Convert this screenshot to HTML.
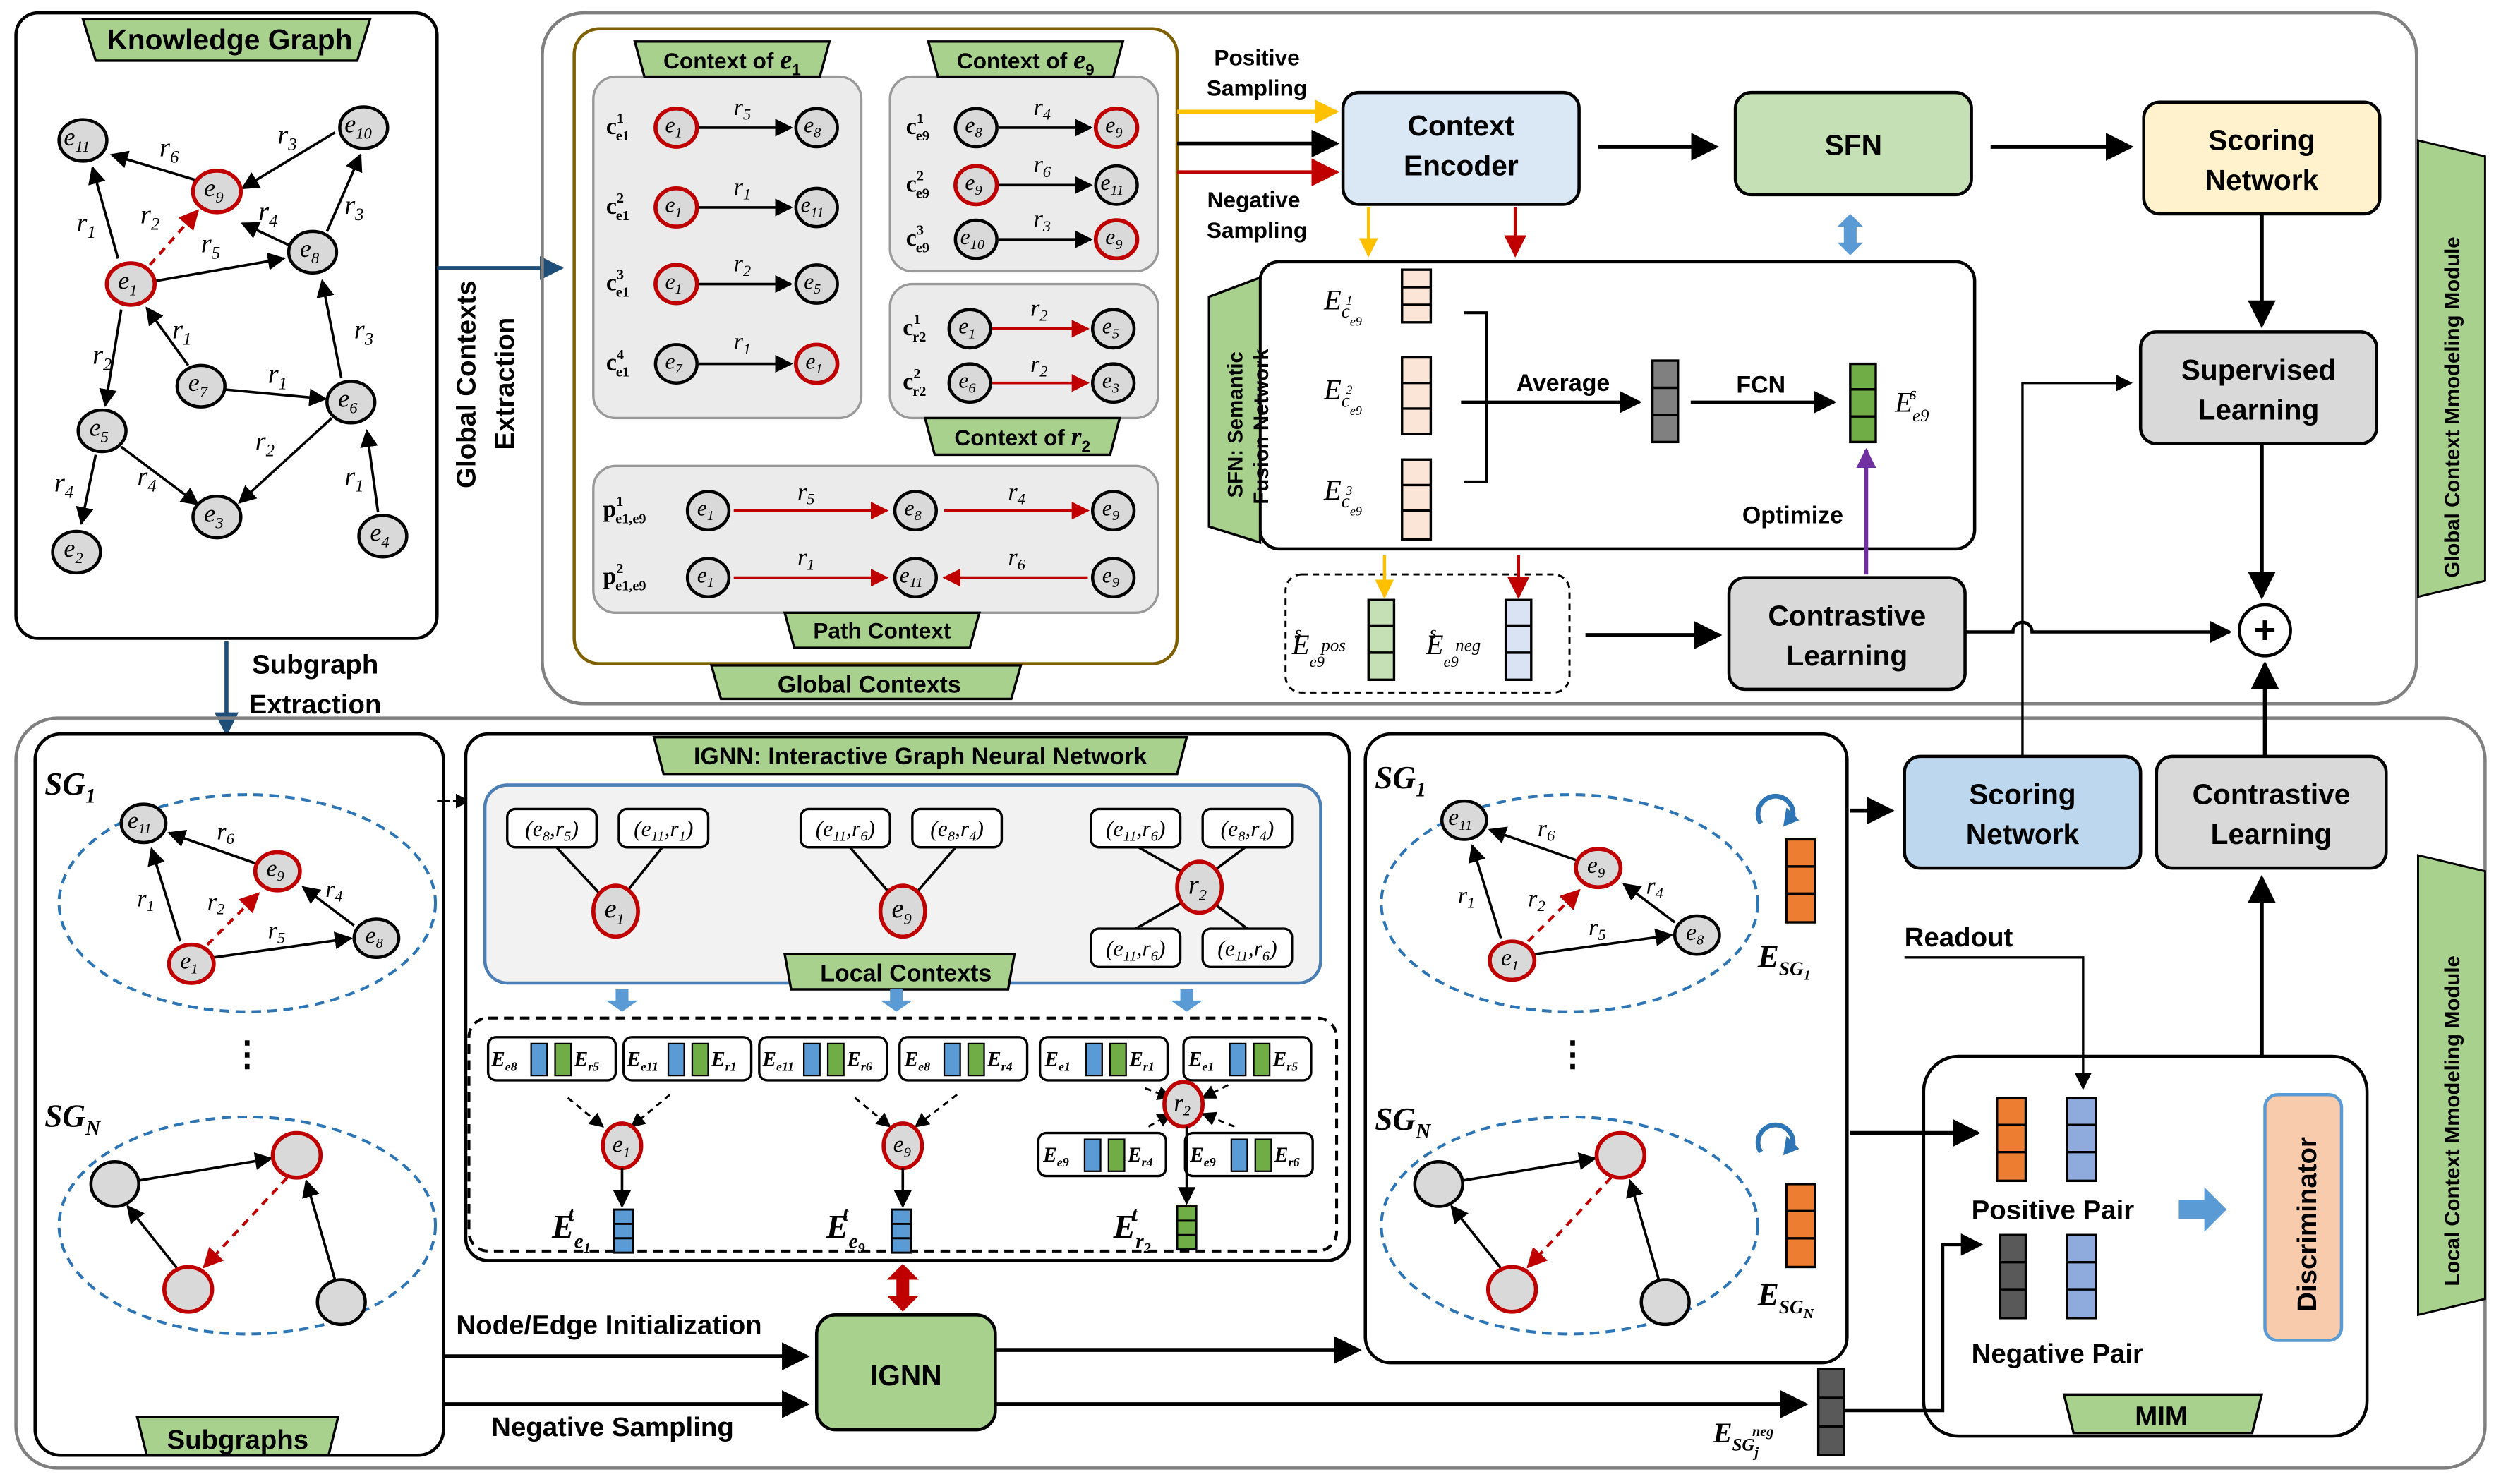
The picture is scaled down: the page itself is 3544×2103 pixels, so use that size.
<!DOCTYPE html>
<html><head><meta charset="utf-8"><style>
html,body{margin:0;padding:0;background:#fff}
svg{display:block}
.b{font-family:"Liberation Sans",sans-serif;font-weight:bold}
.m{font-family:"Liberation Serif",serif;font-style:italic}
.n{fill:#d9d9d9;stroke:#000;stroke-width:2}
.nr{fill:#d9d9d9;stroke:#c00000;stroke-width:2.5}
.l{stroke:#000;stroke-width:1.6;fill:none}
</style></head><body>
<svg width="3544" height="2103" viewBox="0 0 1568 930" preserveAspectRatio="none" xmlns="http://www.w3.org/2000/svg">
<defs>
<marker id="a" viewBox="0 0 10 10" refX="9" refY="5" markerWidth="7" markerHeight="7" orient="auto-start-reverse"><path d="M0,0L10,5L0,10z" fill="#000"/></marker>
<marker id="ar" viewBox="0 0 10 10" refX="9" refY="5" markerWidth="7" markerHeight="7" orient="auto"><path d="M0,0L10,5L0,10z" fill="#c00000"/></marker>
<marker id="ay" viewBox="0 0 10 10" refX="9" refY="5" markerWidth="6" markerHeight="6" orient="auto"><path d="M0,0L10,5L0,10z" fill="#ffc000"/></marker>
<marker id="ab" viewBox="0 0 10 10" refX="9" refY="5" markerWidth="6" markerHeight="6" orient="auto"><path d="M0,0L10,5L0,10z" fill="#1f4e79"/></marker>
<marker id="ap" viewBox="0 0 10 10" refX="9" refY="5" markerWidth="5" markerHeight="5" orient="auto"><path d="M0,0L10,5L0,10z" fill="#7030a0"/></marker>
</defs>

<!-- ===== Knowledge graph panel ===== -->
<rect x="10" y="8" width="264" height="392" rx="14" fill="#fff" stroke="#000" stroke-width="2"/>
<path d="M52,12H232L224,38H60Z" fill="#a9d18e" stroke="#000" stroke-width="1.5"/>
<text x="144" y="31" class="b" font-size="18" text-anchor="middle">Knowledge Graph</text>
<g class="l">
<line x1="130" y1="115" x2="70" y2="97" marker-end="url(#a)"/>
<line x1="74" y1="162" x2="58" y2="105" marker-end="url(#a)"/>
<line x1="210" y1="83" x2="152" y2="118" marker-end="url(#a)"/>
<line x1="182" y1="154" x2="152" y2="140" marker-end="url(#a)"/>
<line x1="205" y1="145" x2="226" y2="97" marker-end="url(#a)"/>
<line x1="98" y1="176" x2="178" y2="162" marker-end="url(#a)"/>
<line x1="76" y1="194" x2="66" y2="254" marker-end="url(#a)"/>
<line x1="118" y1="229" x2="92" y2="193" marker-end="url(#a)"/>
<line x1="140" y1="244" x2="204" y2="250" marker-end="url(#a)"/>
<line x1="214" y1="237" x2="202" y2="176" marker-end="url(#a)"/>
<line x1="208" y1="262" x2="150" y2="315" marker-end="url(#a)"/>
<line x1="76" y1="280" x2="124" y2="316" marker-end="url(#a)"/>
<line x1="60" y1="285" x2="51" y2="328" marker-end="url(#a)"/>
<line x1="237" y1="321" x2="230" y2="270" marker-end="url(#a)"/>
</g>
<line x1="94" y1="166" x2="124" y2="132" stroke="#c00000" stroke-width="1.8" stroke-dasharray="5,4" marker-end="url(#ar)"/>
<g class="m" font-size="17">
<text x="100" y="98">r<tspan font-size="11" dy="4">6</tspan></text>
<text x="174" y="90">r<tspan font-size="11" dy="4">3</tspan></text>
<text x="48" y="145">r<tspan font-size="11" dy="4">1</tspan></text>
<text x="88" y="140">r<tspan font-size="11" dy="4">2</tspan></text>
<text x="162" y="138">r<tspan font-size="11" dy="4">4</tspan></text>
<text x="216" y="134">r<tspan font-size="11" dy="4">3</tspan></text>
<text x="126" y="158">r<tspan font-size="11" dy="4">5</tspan></text>
<text x="108" y="212">r<tspan font-size="11" dy="4">1</tspan></text>
<text x="58" y="228">r<tspan font-size="11" dy="4">2</tspan></text>
<text x="168" y="240">r<tspan font-size="11" dy="4">1</tspan></text>
<text x="222" y="212">r<tspan font-size="11" dy="4">3</tspan></text>
<text x="160" y="282">r<tspan font-size="11" dy="4">2</tspan></text>
<text x="34" y="308">r<tspan font-size="11" dy="4">4</tspan></text>
<text x="86" y="304">r<tspan font-size="11" dy="4">4</tspan></text>
<text x="216" y="304">r<tspan font-size="11" dy="4">1</tspan></text>
</g>
<g>
<ellipse cx="52" cy="88" rx="15" ry="13" class="n"/><ellipse cx="136" cy="120" rx="15" ry="13" class="nr"/><ellipse cx="228" cy="80" rx="15" ry="13" class="n"/><ellipse cx="196" cy="158" rx="15" ry="13" class="n"/><ellipse cx="82" cy="178" rx="15" ry="13" class="nr"/><ellipse cx="126" cy="242" rx="15" ry="13" class="n"/><ellipse cx="220" cy="252" rx="15" ry="13" class="n"/><ellipse cx="64" cy="270" rx="15" ry="13" class="n"/><ellipse cx="136" cy="324" rx="15" ry="13" class="n"/><ellipse cx="48" cy="346" rx="15" ry="13" class="n"/><ellipse cx="240" cy="336" rx="15" ry="13" class="n"/>
</g>
<g class="m" font-size="16">
<text x="40" y="91">e<tspan font-size="10" dy="4">11</tspan></text>
<text x="128" y="123">e<tspan font-size="10" dy="4">9</tspan></text>
<text x="216" y="83">e<tspan font-size="10" dy="4">10</tspan></text>
<text x="188" y="161">e<tspan font-size="10" dy="4">8</tspan></text>
<text x="74" y="181">e<tspan font-size="10" dy="4">1</tspan></text>
<text x="118" y="245">e<tspan font-size="10" dy="4">7</tspan></text>
<text x="212" y="255">e<tspan font-size="10" dy="4">6</tspan></text>
<text x="56" y="273">e<tspan font-size="10" dy="4">5</tspan></text>
<text x="128" y="327">e<tspan font-size="10" dy="4">3</tspan></text>
<text x="40" y="349">e<tspan font-size="10" dy="4">2</tspan></text>
<text x="232" y="339">e<tspan font-size="10" dy="4">4</tspan></text>
</g>

<!-- extraction arrows -->
<line x1="274" y1="168" x2="352" y2="168" stroke="#1f4e79" stroke-width="2.5" marker-end="url(#ab)"/>
<text transform="translate(298,306) rotate(-90)" class="b" font-size="17">Global Contexts</text>
<text transform="translate(322,282) rotate(-90)" class="b" font-size="17">Extraction</text>
<line x1="142" y1="402" x2="142" y2="460" stroke="#1f4e79" stroke-width="2.5" marker-end="url(#ab)"/>
<text x="158" y="422" class="b" font-size="17">Subgraph</text>
<text x="156" y="447" class="b" font-size="17">Extraction</text>

<!-- ===== Global panel ===== -->
<rect x="340" y="8" width="1175" height="433" rx="26" fill="none" stroke="#808080" stroke-width="2"/>
<rect x="360" y="18" width="378" height="398" rx="16" fill="#fff" stroke="#7f6000" stroke-width="2"/>
<path d="M446,417H640L634,438H452Z" fill="#a9d18e" stroke="#000" stroke-width="1.5"/>
<text x="545" y="434" class="b" font-size="15" text-anchor="middle">Global Contexts</text>

<rect x="372" y="48" width="168" height="214" rx="14" fill="#ebebeb" stroke="#999" stroke-width="1.5"/>
<path d="M398,26H520L514,48H404Z" fill="#a9d18e" stroke="#000" stroke-width="1.5"/>
<text x="459" y="43" class="b" font-size="14" text-anchor="middle" font-weight="normal">Context of <tspan class="m" font-size="17">e</tspan><tspan font-size="10" dy="4">1</tspan></text>
<rect x="558" y="48" width="168" height="122" rx="14" fill="#ebebeb" stroke="#999" stroke-width="1.5"/>
<path d="M582,26H704L698,48H588Z" fill="#a9d18e" stroke="#000" stroke-width="1.5"/>
<text x="643" y="43" class="b" font-size="14" text-anchor="middle" font-weight="normal">Context of <tspan class="m" font-size="17">e</tspan><tspan font-size="10" dy="4">9</tspan></text>
<rect x="558" y="178" width="168" height="84" rx="14" fill="#ebebeb" stroke="#999" stroke-width="1.5"/>
<path d="M580,262H702L696,285H586Z" fill="#a9d18e" stroke="#000" stroke-width="1.5"/>
<text x="641" y="279" class="b" font-size="14" text-anchor="middle" font-weight="normal">Context of <tspan class="m" font-size="17">r</tspan><tspan font-size="10" dy="4">2</tspan></text>
<rect x="372" y="292" width="354" height="92" rx="14" fill="#ebebeb" stroke="#999" stroke-width="1.5"/>
<path d="M492,384H614L608,406H498Z" fill="#a9d18e" stroke="#000" stroke-width="1.5"/>
<text x="553" y="400" class="b" font-size="14" text-anchor="middle" font-weight="normal">Path Context</text>

<g class="l">
<line x1="438" y1="80" x2="496" y2="80" marker-end="url(#a)"/>
<line x1="438" y1="130" x2="496" y2="130" marker-end="url(#a)"/>
<line x1="438" y1="178" x2="496" y2="178" marker-end="url(#a)"/>
<line x1="438" y1="228" x2="496" y2="228" marker-end="url(#a)"/>
<line x1="626" y1="80" x2="684" y2="80" marker-end="url(#a)"/>
<line x1="626" y1="116" x2="684" y2="116" marker-end="url(#a)"/>
<line x1="626" y1="150" x2="684" y2="150" marker-end="url(#a)"/>
</g>
<g stroke="#c00000" stroke-width="1.6">
<line x1="622" y1="206" x2="682" y2="206" marker-end="url(#ar)"/>
<line x1="622" y1="240" x2="682" y2="240" marker-end="url(#ar)"/>
<line x1="460" y1="320" x2="556" y2="320" marker-end="url(#ar)"/>
<line x1="592" y1="320" x2="682" y2="320" marker-end="url(#ar)"/>
<line x1="460" y1="362" x2="556" y2="362" marker-end="url(#ar)"/>
<line x1="682" y1="362" x2="592" y2="362" marker-end="url(#ar)"/>
</g>
<g>
<ellipse cx="424" cy="80" rx="13" ry="12" class="nr"/><ellipse cx="512" cy="80" rx="13" ry="12" class="n"/>
<ellipse cx="424" cy="130" rx="13" ry="12" class="nr"/><ellipse cx="512" cy="130" rx="13" ry="12" class="n"/>
<ellipse cx="424" cy="178" rx="13" ry="12" class="nr"/><ellipse cx="512" cy="178" rx="13" ry="12" class="n"/>
<ellipse cx="424" cy="228" rx="13" ry="12" class="n"/><ellipse cx="512" cy="228" rx="13" ry="12" class="nr"/>
<ellipse cx="612" cy="80" rx="13" ry="12" class="n"/><ellipse cx="700" cy="80" rx="13" ry="12" class="nr"/>
<ellipse cx="612" cy="116" rx="13" ry="12" class="nr"/><ellipse cx="700" cy="116" rx="13" ry="12" class="n"/>
<ellipse cx="612" cy="150" rx="13" ry="12" class="n"/><ellipse cx="700" cy="150" rx="13" ry="12" class="nr"/>
<ellipse cx="608" cy="206" rx="13" ry="12" class="n"/><ellipse cx="698" cy="206" rx="13" ry="12" class="n"/>
<ellipse cx="608" cy="240" rx="13" ry="12" class="n"/><ellipse cx="698" cy="240" rx="13" ry="12" class="n"/>
<ellipse cx="444" cy="320" rx="13" ry="12" class="n"/><ellipse cx="574" cy="320" rx="13" ry="12" class="n"/><ellipse cx="698" cy="320" rx="13" ry="12" class="n"/>
<ellipse cx="444" cy="362" rx="13" ry="12" class="n"/><ellipse cx="574" cy="362" rx="13" ry="12" class="n"/><ellipse cx="698" cy="362" rx="13" ry="12" class="n"/>
</g>
<g class="m" font-size="14">
<text x="417" y="83">e<tspan font-size="9" dy="3">1</tspan></text><text x="504" y="83">e<tspan font-size="9" dy="3">8</tspan></text>
<text x="417" y="133">e<tspan font-size="9" dy="3">1</tspan></text><text x="502" y="133">e<tspan font-size="9" dy="3">11</tspan></text>
<text x="417" y="181">e<tspan font-size="9" dy="3">1</tspan></text><text x="504" y="181">e<tspan font-size="9" dy="3">5</tspan></text>
<text x="417" y="231">e<tspan font-size="9" dy="3">7</tspan></text><text x="505" y="231">e<tspan font-size="9" dy="3">1</tspan></text>
<text x="605" y="83">e<tspan font-size="9" dy="3">8</tspan></text><text x="693" y="83">e<tspan font-size="9" dy="3">9</tspan></text>
<text x="605" y="119">e<tspan font-size="9" dy="3">9</tspan></text><text x="690" y="119">e<tspan font-size="9" dy="3">11</tspan></text>
<text x="602" y="153">e<tspan font-size="9" dy="3">10</tspan></text><text x="693" y="153">e<tspan font-size="9" dy="3">9</tspan></text>
<text x="601" y="209">e<tspan font-size="9" dy="3">1</tspan></text><text x="691" y="209">e<tspan font-size="9" dy="3">5</tspan></text>
<text x="601" y="243">e<tspan font-size="9" dy="3">6</tspan></text><text x="691" y="243">e<tspan font-size="9" dy="3">3</tspan></text>
<text x="437" y="323">e<tspan font-size="9" dy="3">1</tspan></text><text x="567" y="323">e<tspan font-size="9" dy="3">8</tspan></text><text x="691" y="323">e<tspan font-size="9" dy="3">9</tspan></text>
<text x="437" y="365">e<tspan font-size="9" dy="3">1</tspan></text><text x="564" y="365">e<tspan font-size="9" dy="3">11</tspan></text><text x="691" y="365">e<tspan font-size="9" dy="3">9</tspan></text>
</g>
<g class="m" font-size="15">
<text x="460" y="72">r<tspan font-size="10" dy="3">5</tspan></text>
<text x="460" y="122">r<tspan font-size="10" dy="3">1</tspan></text>
<text x="460" y="170">r<tspan font-size="10" dy="3">2</tspan></text>
<text x="460" y="219">r<tspan font-size="10" dy="3">1</tspan></text>
<text x="648" y="72">r<tspan font-size="10" dy="3">4</tspan></text>
<text x="648" y="108">r<tspan font-size="10" dy="3">6</tspan></text>
<text x="648" y="142">r<tspan font-size="10" dy="3">3</tspan></text>
<text x="646" y="198">r<tspan font-size="10" dy="3">2</tspan></text>
<text x="646" y="233">r<tspan font-size="10" dy="3">2</tspan></text>
<text x="500" y="313">r<tspan font-size="10" dy="3">5</tspan></text>
<text x="632" y="313">r<tspan font-size="10" dy="3">4</tspan></text>
<text x="500" y="354">r<tspan font-size="10" dy="3">1</tspan></text>
<text x="632" y="354">r<tspan font-size="10" dy="3">6</tspan></text>
</g>
<g font-family="Liberation Serif,serif" font-weight="bold" font-size="15">
<text x="380" y="84">c<tspan font-size="9" dy="-7">1</tspan><tspan font-size="9" dy="11" dx="-5">e1</tspan></text>
<text x="380" y="134">c<tspan font-size="9" dy="-7">2</tspan><tspan font-size="9" dy="11" dx="-5">e1</tspan></text>
<text x="380" y="182">c<tspan font-size="9" dy="-7">3</tspan><tspan font-size="9" dy="11" dx="-5">e1</tspan></text>
<text x="380" y="232">c<tspan font-size="9" dy="-7">4</tspan><tspan font-size="9" dy="11" dx="-5">e1</tspan></text>
<text x="568" y="84">c<tspan font-size="9" dy="-7">1</tspan><tspan font-size="9" dy="11" dx="-5">e9</tspan></text>
<text x="568" y="120">c<tspan font-size="9" dy="-7">2</tspan><tspan font-size="9" dy="11" dx="-5">e9</tspan></text>
<text x="568" y="154">c<tspan font-size="9" dy="-7">3</tspan><tspan font-size="9" dy="11" dx="-5">e9</tspan></text>
<text x="566" y="210">c<tspan font-size="9" dy="-7">1</tspan><tspan font-size="9" dy="11" dx="-5">r2</tspan></text>
<text x="566" y="244">c<tspan font-size="9" dy="-7">2</tspan><tspan font-size="9" dy="11" dx="-5">r2</tspan></text>
<text x="378" y="324">p<tspan font-size="9" dy="-7">1</tspan><tspan font-size="9" dy="11" dx="-5">e1,e9</tspan></text>
<text x="378" y="366">p<tspan font-size="9" dy="-7">2</tspan><tspan font-size="9" dy="11" dx="-5">e1,e9</tspan></text>
</g>

<!-- top pipeline -->
<line x1="738" y1="70" x2="838" y2="70" stroke="#ffc000" stroke-width="2.5" marker-end="url(#ay)"/>
<line x1="738" y1="90" x2="838" y2="90" stroke="#000" stroke-width="2.5" marker-end="url(#a)"/>
<line x1="738" y1="108" x2="838" y2="108" stroke="#c00000" stroke-width="2.5" marker-end="url(#ar)"/>
<text x="788" y="41" class="b" font-size="14" text-anchor="middle">Positive</text>
<text x="788" y="60" class="b" font-size="14" text-anchor="middle">Sampling</text>
<text x="786" y="130" class="b" font-size="14" text-anchor="middle">Negative</text>
<text x="788" y="149" class="b" font-size="14" text-anchor="middle">Sampling</text>
<rect x="842" y="58" width="148" height="70" rx="10" fill="#dae8f5" stroke="#000" stroke-width="2"/>
<text x="916" y="85" class="b" font-size="18" text-anchor="middle">Context</text>
<text x="916" y="110" class="b" font-size="18" text-anchor="middle">Encoder</text>
<line x1="1002" y1="92" x2="1076" y2="92" stroke="#000" stroke-width="2.5" marker-end="url(#a)"/>
<rect x="1088" y="58" width="148" height="64" rx="10" fill="#c5e0b4" stroke="#000" stroke-width="2"/>
<text x="1162" y="97" class="b" font-size="18" text-anchor="middle">SFN</text>
<line x1="1248" y1="92" x2="1336" y2="92" stroke="#000" stroke-width="2.5" marker-end="url(#a)"/>
<rect x="1344" y="64" width="148" height="70" rx="10" fill="#fff2cc" stroke="#000" stroke-width="2"/>
<text x="1418" y="94" class="b" font-size="18" text-anchor="middle">Scoring</text>
<text x="1418" y="119" class="b" font-size="18" text-anchor="middle">Network</text>
<line x1="1418" y1="134" x2="1418" y2="204" stroke="#000" stroke-width="2.5" marker-end="url(#a)"/>
<rect x="1342" y="208" width="148" height="70" rx="10" fill="#d9d9d9" stroke="#000" stroke-width="2"/>
<text x="1416" y="238" class="b" font-size="18" text-anchor="middle">Supervised</text>
<text x="1416" y="263" class="b" font-size="18" text-anchor="middle">Learning</text>
<line x1="1418" y1="278" x2="1418" y2="374" stroke="#000" stroke-width="2.5" marker-end="url(#a)"/>
<path d="M1160,134L1168,142H1164V152H1168L1160,160L1152,152H1156V142H1152Z" fill="#5b9bd5"/>
<line x1="858" y1="130" x2="858" y2="160" stroke="#ffc000" stroke-width="2" marker-end="url(#ay)"/>
<line x1="950" y1="130" x2="950" y2="160" stroke="#c00000" stroke-width="2" marker-end="url(#ar)"/>

<!-- SFN box -->
<rect x="790" y="164" width="448" height="180" rx="12" fill="#fff" stroke="#000" stroke-width="2"/>
<path d="M758,186L790,174V340L758,330Z" fill="#a9d18e" stroke="#000" stroke-width="1.5"/>
<text transform="translate(779,312) rotate(-90)" class="b" font-size="13">SFN: Semantic</text>
<text transform="translate(795,316) rotate(-90)" class="b" font-size="13">Fusion Network</text>
<g fill="#fbe5d6" stroke="#000" stroke-width="1.5">
<rect x="879" y="169" width="18" height="33"/><line x1="879" y1="180" x2="897" y2="180"/><line x1="879" y1="191" x2="897" y2="191"/>
<rect x="879" y="224" width="18" height="48"/><line x1="879" y1="240" x2="897" y2="240"/><line x1="879" y1="256" x2="897" y2="256"/>
<rect x="879" y="288" width="18" height="50"/><line x1="879" y1="304" x2="897" y2="304"/><line x1="879" y1="320" x2="897" y2="320"/>
</g>
<g class="m" font-size="18">
<text x="830" y="194">E<tspan font-size="12" dy="5">c</tspan><tspan font-size="8" dy="5">e9</tspan><tspan font-size="8" dx="-10" dy="-13">1</tspan></text>
<text x="830" y="250">E<tspan font-size="12" dy="5">c</tspan><tspan font-size="8" dy="5">e9</tspan><tspan font-size="8" dx="-10" dy="-13">2</tspan></text>
<text x="830" y="313">E<tspan font-size="12" dy="5">c</tspan><tspan font-size="8" dy="5">e9</tspan><tspan font-size="8" dx="-10" dy="-13">3</tspan></text>
</g>
<path d="M918,196H932V302H918" fill="none" stroke="#000" stroke-width="1.8"/>
<line x1="916" y1="252" x2="1028" y2="252" stroke="#000" stroke-width="2" marker-end="url(#a)"/>
<text x="980" y="245" class="b" font-size="15" text-anchor="middle">Average</text>
<g fill="#808080" stroke="#000" stroke-width="1.5"><rect x="1036" y="226" width="16" height="51"/><line x1="1036" y1="243" x2="1052" y2="243"/><line x1="1036" y1="260" x2="1052" y2="260"/></g>
<line x1="1060" y1="252" x2="1150" y2="252" stroke="#000" stroke-width="2" marker-end="url(#a)"/>
<text x="1104" y="246" class="b" font-size="15" text-anchor="middle">FCN</text>
<g fill="#70ad47" stroke="#000" stroke-width="1.5"><rect x="1160" y="228" width="16" height="49"/><line x1="1160" y1="244" x2="1176" y2="244"/><line x1="1160" y1="261" x2="1176" y2="261"/></g>
<text x="1188" y="258" class="m" font-size="18">E<tspan font-size="11" dy="6">e9</tspan><tspan font-size="11" dx="-12" dy="-14">s</tspan></text>
<text x="1124" y="328" class="b" font-size="15" text-anchor="middle">Optimize</text>
<line x1="1170" y1="360" x2="1170" y2="282" stroke="#7030a0" stroke-width="2.5" marker-end="url(#ap)"/>

<!-- dashed pos/neg -->
<rect x="806" y="360" width="178" height="74" rx="10" fill="#fff" stroke="#000" stroke-width="1.3" stroke-dasharray="4,3"/>
<line x1="868" y1="348" x2="868" y2="374" stroke="#ffc000" stroke-width="2" marker-end="url(#ay)"/>
<line x1="952" y1="348" x2="952" y2="374" stroke="#c00000" stroke-width="2" marker-end="url(#ar)"/>
<g fill="#c5e0b4" stroke="#000" stroke-width="1.5"><rect x="858" y="376" width="16" height="50"/><line x1="858" y1="392" x2="874" y2="392"/><line x1="858" y1="409" x2="874" y2="409"/></g>
<g fill="#dae3f3" stroke="#000" stroke-width="1.5"><rect x="944" y="376" width="16" height="50"/><line x1="944" y1="392" x2="960" y2="392"/><line x1="944" y1="409" x2="960" y2="409"/></g>
<text x="810" y="410" class="m" font-size="18">E<tspan font-size="10" dy="8">e9</tspan><tspan font-size="11" dx="-2" dy="-10">pos</tspan><tspan font-size="11" dx="-32" dy="-8">s</tspan></text>
<text x="894" y="410" class="m" font-size="18">E<tspan font-size="10" dy="8">e9</tspan><tspan font-size="11" dx="-2" dy="-10">neg</tspan><tspan font-size="11" dx="-32" dy="-8">s</tspan></text>
<line x1="994" y1="398" x2="1078" y2="398" stroke="#000" stroke-width="2.5" marker-end="url(#a)"/>
<rect x="1084" y="362" width="148" height="70" rx="10" fill="#d9d9d9" stroke="#000" stroke-width="2"/>
<text x="1158" y="392" class="b" font-size="18" text-anchor="middle">Contrastive</text>
<text x="1158" y="417" class="b" font-size="18" text-anchor="middle">Learning</text>
<path d="M1232,396H1262A6,6 0 0 1 1274,396H1398" fill="none" stroke="#000" stroke-width="2" marker-end="url(#a)"/>
<circle cx="1420" cy="395" r="16" fill="#fff" stroke="#000" stroke-width="2"/>
<text x="1420" y="403" class="b" font-size="24" text-anchor="middle">+</text>
<path d="M1516,88L1558,98V364L1516,374Z" fill="#a9d18e" stroke="#000" stroke-width="1.3"/>
<text transform="translate(1542,362) rotate(-90)" class="b" font-size="13">Global Context Mmodeling Module</text>

<!-- ===== Local panel ===== -->
<rect x="10" y="450" width="1548" height="470" rx="26" fill="none" stroke="#808080" stroke-width="2"/>
<path d="M1516,536L1558,546V814L1516,824Z" fill="#a9d18e" stroke="#000" stroke-width="1.3"/>
<text transform="translate(1542,806) rotate(-90)" class="b" font-size="13">Local Context Mmodeling Module</text>

<!-- Subgraphs -->
<rect x="22" y="460" width="256" height="452" rx="16" fill="#fff" stroke="#000" stroke-width="2"/>
<path d="M86,888H212L206,912H92Z" fill="#a9d18e" stroke="#000" stroke-width="1.5"/>
<text x="149" y="908" class="b" font-size="17" text-anchor="middle">Subgraphs</text>
<text x="28" y="498" class="m" font-weight="bold" font-size="20">SG<tspan font-size="13" dy="5">1</tspan></text>
<text x="28" y="706" class="m" font-weight="bold" font-size="20">SG<tspan font-size="13" dy="5">N</tspan></text>
<text x="155" y="668" class="b" font-size="22" text-anchor="middle">⋮</text>
<ellipse cx="155" cy="566" rx="118" ry="68" fill="none" stroke="#2e75b6" stroke-width="1.8" stroke-dasharray="6,4"/>
<ellipse cx="155" cy="768" rx="118" ry="68" fill="none" stroke="#2e75b6" stroke-width="1.8" stroke-dasharray="6,4"/>
<g id="sg1">
<g class="l">
<line x1="160" y1="541" x2="106" y2="522" marker-end="url(#a)"/>
<line x1="113" y1="590" x2="95" y2="532" marker-end="url(#a)"/>
<line x1="222" y1="580" x2="190" y2="556" marker-end="url(#a)"/>
<line x1="134" y1="600" x2="220" y2="588" marker-end="url(#a)"/>
</g>
<line x1="130" y1="592" x2="162" y2="560" stroke="#c00000" stroke-width="1.8" stroke-dasharray="5,4" marker-end="url(#ar)"/>
<ellipse cx="90" cy="516" rx="14" ry="12" class="n"/><ellipse cx="174" cy="546" rx="14" ry="12" class="nr"/><ellipse cx="236" cy="588" rx="14" ry="12" class="n"/><ellipse cx="120" cy="604" rx="14" ry="12" class="nr"/>
<g class="m" font-size="15">
<text x="80" y="519">e<tspan font-size="9" dy="3">11</tspan></text><text x="167" y="549">e<tspan font-size="9" dy="3">9</tspan></text><text x="229" y="591">e<tspan font-size="9" dy="3">8</tspan></text><text x="113" y="607">e<tspan font-size="9" dy="3">1</tspan></text>
<text x="136" y="526">r<tspan font-size="10" dy="3">6</tspan></text><text x="86" y="568">r<tspan font-size="10" dy="3">1</tspan></text><text x="130" y="570">r<tspan font-size="10" dy="3">2</tspan></text><text x="204" y="562">r<tspan font-size="10" dy="3">4</tspan></text><text x="168" y="588">r<tspan font-size="10" dy="3">5</tspan></text>
</g>
</g>
<g id="sgn">
<g class="l">
<line x1="86" y1="740" x2="170" y2="726" marker-end="url(#a)"/>
<line x1="112" y1="796" x2="80" y2="756" marker-end="url(#a)"/>
<line x1="210" y1="802" x2="192" y2="740" marker-end="url(#a)"/>
</g>
<line x1="180" y1="738" x2="128" y2="794" stroke="#c00000" stroke-width="1.8" stroke-dasharray="5,4" marker-end="url(#ar)"/>
<ellipse cx="72" cy="742" rx="15" ry="14" class="n"/><ellipse cx="186" cy="724" rx="15" ry="14" class="nr"/><ellipse cx="118" cy="808" rx="15" ry="14" class="nr"/><ellipse cx="214" cy="816" rx="15" ry="14" class="n"/>
</g>
<line x1="274" y1="502" x2="294" y2="502" stroke="#000" stroke-width="1.3" stroke-dasharray="3,2" marker-end="url(#a)"/>

<!-- IGNN box -->
<rect x="292" y="460" width="554" height="330" rx="14" fill="#fff" stroke="#000" stroke-width="2"/>
<path d="M410,462H744L738,485H416Z" fill="#a9d18e" stroke="#000" stroke-width="1.5"/>
<text x="577" y="479" class="b" font-size="15" text-anchor="middle" font-weight="normal">IGNN: Interactive Graph Neural Network</text>
<rect x="304" y="492" width="524" height="124" rx="14" fill="#f2f2f2" stroke="#4a7eb5" stroke-width="2"/>
<g class="l">
<line x1="348" y1="530" x2="376" y2="560"/><line x1="416" y1="530" x2="392" y2="560"/>
<line x1="532" y1="530" x2="558" y2="560"/><line x1="600" y1="530" x2="574" y2="560"/>
<line x1="712" y1="530" x2="744" y2="548"/><line x1="782" y1="530" x2="758" y2="548"/>
<line x1="712" y1="582" x2="744" y2="564"/><line x1="782" y1="582" x2="758" y2="564"/>
</g>
<g fill="#fff" stroke="#000" stroke-width="1.5">
<rect x="318" y="507" width="56" height="24" rx="5"/><rect x="388" y="507" width="56" height="24" rx="5"/>
<rect x="502" y="507" width="56" height="24" rx="5"/><rect x="572" y="507" width="56" height="24" rx="5"/>
<rect x="684" y="507" width="56" height="24" rx="5"/><rect x="754" y="507" width="56" height="24" rx="5"/>
<rect x="684" y="582" width="56" height="24" rx="5"/><rect x="754" y="582" width="56" height="24" rx="5"/>
</g>
<g class="m" font-size="14" text-anchor="middle">
<text x="346" y="524">(e<tspan font-size="9" dy="3">8</tspan><tspan dy="-3">,r</tspan><tspan font-size="9" dy="3">5</tspan><tspan dy="-3">)</tspan></text>
<text x="416" y="524">(e<tspan font-size="9" dy="3">11</tspan><tspan dy="-3">,r</tspan><tspan font-size="9" dy="3">1</tspan><tspan dy="-3">)</tspan></text>
<text x="530" y="524">(e<tspan font-size="9" dy="3">11</tspan><tspan dy="-3">,r</tspan><tspan font-size="9" dy="3">6</tspan><tspan dy="-3">)</tspan></text>
<text x="600" y="524">(e<tspan font-size="9" dy="3">8</tspan><tspan dy="-3">,r</tspan><tspan font-size="9" dy="3">4</tspan><tspan dy="-3">)</tspan></text>
<text x="712" y="524">(e<tspan font-size="9" dy="3">11</tspan><tspan dy="-3">,r</tspan><tspan font-size="9" dy="3">6</tspan><tspan dy="-3">)</tspan></text>
<text x="782" y="524">(e<tspan font-size="9" dy="3">8</tspan><tspan dy="-3">,r</tspan><tspan font-size="9" dy="3">4</tspan><tspan dy="-3">)</tspan></text>
<text x="712" y="599">(e<tspan font-size="9" dy="3">11</tspan><tspan dy="-3">,r</tspan><tspan font-size="9" dy="3">6</tspan><tspan dy="-3">)</tspan></text>
<text x="782" y="599">(e<tspan font-size="9" dy="3">11</tspan><tspan dy="-3">,r</tspan><tspan font-size="9" dy="3">6</tspan><tspan dy="-3">)</tspan></text>
</g>
<ellipse cx="386" cy="571" rx="14" ry="16" class="nr"/><ellipse cx="566" cy="571" rx="14" ry="16" class="nr"/><ellipse cx="752" cy="556" rx="14" ry="16" class="nr"/>
<g class="m" font-size="17">
<text x="379" y="575">e<tspan font-size="10" dy="4">1</tspan></text><text x="559" y="575">e<tspan font-size="10" dy="4">9</tspan></text><text x="745" y="560">r<tspan font-size="10" dy="4">2</tspan></text>
</g>
<path d="M492,598H636L632,620H496Z" fill="#a9d18e" stroke="#000" stroke-width="1.5"/>
<text x="568" y="615" class="b" font-size="15" text-anchor="middle" font-weight="normal">Local Contexts</text>
<g fill="#5b9bd5">
<path d="M386,620H394V627H400L390,634L380,627H386Z"/><path d="M558,620H566V627H572L562,634L552,627H558Z"/><path d="M740,620H748V627H754L744,634L734,627H740Z"/>
</g>
<rect x="294" y="638" width="544" height="146" rx="12" fill="none" stroke="#000" stroke-width="1.8" stroke-dasharray="6,4"/>
<g fill="#fff" stroke="#000" stroke-width="1.5">
<rect x="306" y="650" width="80" height="27" rx="5"/><rect x="391" y="650" width="80" height="27" rx="5"/><rect x="476" y="650" width="80" height="27" rx="5"/>
<rect x="564" y="650" width="80" height="27" rx="5"/><rect x="652" y="650" width="80" height="27" rx="5"/><rect x="742" y="650" width="80" height="27" rx="5"/>
<rect x="651" y="710" width="80" height="27" rx="5"/><rect x="743" y="710" width="80" height="27" rx="5"/>
</g>
<g stroke="#000" stroke-width="1">
<rect x="333" y="654" width="10" height="20" fill="#5b9bd5"/><rect x="348" y="654" width="10" height="20" fill="#70ad47"/>
<rect x="419" y="654" width="10" height="20" fill="#5b9bd5"/><rect x="434" y="654" width="10" height="20" fill="#70ad47"/>
<rect x="504" y="654" width="10" height="20" fill="#5b9bd5"/><rect x="519" y="654" width="10" height="20" fill="#70ad47"/>
<rect x="592" y="654" width="10" height="20" fill="#5b9bd5"/><rect x="607" y="654" width="10" height="20" fill="#70ad47"/>
<rect x="681" y="654" width="10" height="20" fill="#5b9bd5"/><rect x="696" y="654" width="10" height="20" fill="#70ad47"/>
<rect x="771" y="654" width="10" height="20" fill="#5b9bd5"/><rect x="786" y="654" width="10" height="20" fill="#70ad47"/>
<rect x="680" y="714" width="10" height="20" fill="#5b9bd5"/><rect x="695" y="714" width="10" height="20" fill="#70ad47"/>
<rect x="772" y="714" width="10" height="20" fill="#5b9bd5"/><rect x="787" y="714" width="10" height="20" fill="#70ad47"/>
</g>
<g class="m" font-weight="bold" font-size="13">
<text x="308" y="668">E<tspan font-size="8" dy="3">e8</tspan></text><text x="360" y="668">E<tspan font-size="8" dy="3">r5</tspan></text>
<text x="393" y="668">E<tspan font-size="8" dy="3">e11</tspan></text><text x="446" y="668">E<tspan font-size="8" dy="3">r1</tspan></text>
<text x="478" y="668">E<tspan font-size="8" dy="3">e11</tspan></text><text x="531" y="668">E<tspan font-size="8" dy="3">r6</tspan></text>
<text x="567" y="668">E<tspan font-size="8" dy="3">e8</tspan></text><text x="619" y="668">E<tspan font-size="8" dy="3">r4</tspan></text>
<text x="655" y="668">E<tspan font-size="8" dy="3">e1</tspan></text><text x="708" y="668">E<tspan font-size="8" dy="3">r1</tspan></text>
<text x="745" y="668">E<tspan font-size="8" dy="3">e1</tspan></text><text x="798" y="668">E<tspan font-size="8" dy="3">r5</tspan></text>
<text x="654" y="728">E<tspan font-size="8" dy="3">e9</tspan></text><text x="707" y="728">E<tspan font-size="8" dy="3">r4</tspan></text>
<text x="746" y="728">E<tspan font-size="8" dy="3">e9</tspan></text><text x="799" y="728">E<tspan font-size="8" dy="3">r6</tspan></text>
</g>
<g stroke="#000" stroke-width="1.3" stroke-dasharray="4,3" fill="none">
<line x1="356" y1="688" x2="378" y2="706" marker-end="url(#a)"/><line x1="420" y1="686" x2="396" y2="706" marker-end="url(#a)"/>
<line x1="536" y1="688" x2="558" y2="706" marker-end="url(#a)"/><line x1="600" y1="686" x2="574" y2="706" marker-end="url(#a)"/>
<line x1="718" y1="682" x2="734" y2="688" marker-end="url(#a)"/><line x1="770" y1="680" x2="754" y2="688" marker-end="url(#a)"/>
<line x1="720" y1="706" x2="734" y2="698" marker-end="url(#a)"/><line x1="774" y1="706" x2="754" y2="698" marker-end="url(#a)"/>
</g>
<ellipse cx="390" cy="718" rx="12" ry="14" class="nr"/><ellipse cx="566" cy="718" rx="12" ry="14" class="nr"/><ellipse cx="742" cy="692" rx="12" ry="14" class="nr"/>
<g class="m" font-size="15">
<text x="384" y="722">e<tspan font-size="9" dy="3">1</tspan></text><text x="560" y="722">e<tspan font-size="9" dy="3">9</tspan></text><text x="736" y="696">r<tspan font-size="9" dy="3">2</tspan></text>
</g>
<line x1="390" y1="732" x2="390" y2="756" class="l" marker-end="url(#a)"/>
<line x1="566" y1="732" x2="566" y2="756" class="l" marker-end="url(#a)"/>
<line x1="744" y1="706" x2="744" y2="754" class="l" marker-end="url(#a)"/>
<g stroke="#000" stroke-width="1.3">
<rect x="385" y="758" width="12" height="27" fill="#5b9bd5"/><line x1="385" y1="767" x2="397" y2="767"/><line x1="385" y1="776" x2="397" y2="776"/>
<rect x="559" y="758" width="12" height="27" fill="#5b9bd5"/><line x1="559" y1="767" x2="571" y2="767"/><line x1="559" y1="776" x2="571" y2="776"/>
<rect x="738" y="756" width="12" height="27" fill="#70ad47"/><line x1="738" y1="765" x2="750" y2="765"/><line x1="738" y1="774" x2="750" y2="774"/>
</g>
<g font-family="Liberation Serif,serif" font-style="italic" font-weight="bold" font-size="21">
<text x="346" y="776">E<tspan font-size="13" dy="6">e</tspan><tspan font-size="9" dy="3">1</tspan><tspan font-size="13" dx="-14" dy="-20">t</tspan></text>
<text x="518" y="776">E<tspan font-size="13" dy="6">e</tspan><tspan font-size="9" dy="3">9</tspan><tspan font-size="13" dx="-14" dy="-20">t</tspan></text>
<text x="698" y="776">E<tspan font-size="13" dy="6">r</tspan><tspan font-size="9" dy="3">2</tspan><tspan font-size="13" dx="-12" dy="-20">t</tspan></text>
</g>
<path d="M566,792L576,802H570V812H576L566,822L556,812H562V802H556Z" fill="#c00000"/>

<!-- IGNN node and flows -->
<rect x="512" y="824" width="112" height="72" rx="12" fill="#a9d18e" stroke="#000" stroke-width="2"/>
<text x="568" y="868" class="b" font-size="18" text-anchor="middle">IGNN</text>
<line x1="278" y1="850" x2="506" y2="850" stroke="#000" stroke-width="2.5" marker-end="url(#a)"/>
<text x="286" y="836" class="b" font-size="17">Node/Edge Initialization</text>
<line x1="278" y1="880" x2="506" y2="880" stroke="#000" stroke-width="2.5" marker-end="url(#a)"/>
<text x="308" y="900" class="b" font-size="17">Negative Sampling</text>
<line x1="624" y1="846" x2="852" y2="846" stroke="#000" stroke-width="2.5" marker-end="url(#a)"/>
<line x1="624" y1="880" x2="1132" y2="880" stroke="#000" stroke-width="2.5" marker-end="url(#a)"/>
<g fill="#595959" stroke="#000" stroke-width="1.5"><rect x="1140" y="858" width="16" height="54"/><line x1="1140" y1="876" x2="1156" y2="876"/><line x1="1140" y1="894" x2="1156" y2="894"/></g>
<text x="1074" y="904" class="m" font-weight="bold" font-size="18">E<tspan font-size="11" dy="5">SG</tspan><tspan font-size="9" dy="4">j</tspan><tspan font-size="9" dx="-4" dy="-13">neg</tspan></text>

<!-- right SG box -->
<rect x="856" y="460" width="302" height="394" rx="16" fill="#fff" stroke="#000" stroke-width="2"/>
<text x="862" y="494" class="m" font-weight="bold" font-size="20">SG<tspan font-size="13" dy="5">1</tspan></text>
<text x="862" y="708" class="m" font-weight="bold" font-size="20">SG<tspan font-size="13" dy="5">N</tspan></text>
<text x="986" y="668" class="b" font-size="22" text-anchor="middle">⋮</text>
<ellipse cx="984" cy="566" rx="118" ry="68" fill="none" stroke="#2e75b6" stroke-width="1.8" stroke-dasharray="6,4"/>
<ellipse cx="984" cy="768" rx="118" ry="68" fill="none" stroke="#2e75b6" stroke-width="1.8" stroke-dasharray="6,4"/>
<use href="#sg1" transform="translate(828,-2)"/>
<use href="#sgn" transform="translate(830,0)"/>
<path d="M1104,516A11,11 0 1 1 1124,512" fill="none" stroke="#2e75b6" stroke-width="3"/><path d="M1120,506L1128,514L1118,518Z" fill="#2e75b6"/>
<path d="M1104,722A11,11 0 1 1 1124,718" fill="none" stroke="#2e75b6" stroke-width="3"/><path d="M1120,712L1128,720L1118,724Z" fill="#2e75b6"/>
<g fill="#ed7d31" stroke="#000" stroke-width="1.5">
<rect x="1120" y="526" width="18" height="52"/><line x1="1120" y1="543" x2="1138" y2="543"/><line x1="1120" y1="560" x2="1138" y2="560"/>
<rect x="1120" y="742" width="18" height="52"/><line x1="1120" y1="759" x2="1138" y2="759"/><line x1="1120" y1="776" x2="1138" y2="776"/>
</g>
<text x="1102" y="606" class="m" font-weight="bold" font-size="20">E<tspan font-size="12" dy="5">SG</tspan><tspan font-size="9" dy="3">1</tspan></text>
<text x="1102" y="818" class="m" font-weight="bold" font-size="20">E<tspan font-size="12" dy="5">SG</tspan><tspan font-size="9" dy="3">N</tspan></text>
<line x1="1160" y1="508" x2="1186" y2="508" stroke="#000" stroke-width="2.5" marker-end="url(#a)"/>

<rect x="1194" y="474" width="148" height="70" rx="10" fill="#bdd7ee" stroke="#000" stroke-width="2"/>
<text x="1268" y="504" class="b" font-size="18" text-anchor="middle">Scoring</text>
<text x="1268" y="529" class="b" font-size="18" text-anchor="middle">Network</text>
<path d="M1268,474V240H1336" fill="none" stroke="#000" stroke-width="1.5" marker-end="url(#a)"/>
<rect x="1352" y="474" width="144" height="70" rx="10" fill="#d9d9d9" stroke="#000" stroke-width="2"/>
<text x="1424" y="504" class="b" font-size="18" text-anchor="middle">Contrastive</text>
<text x="1424" y="529" class="b" font-size="18" text-anchor="middle">Learning</text>
<line x1="1420" y1="474" x2="1420" y2="416" stroke="#000" stroke-width="2.5" marker-end="url(#a)"/>
<text x="1194" y="593" class="b" font-size="17">Readout</text>

<!-- MIM -->
<rect x="1206" y="662" width="278" height="238" rx="22" fill="#fff" stroke="#000" stroke-width="2"/>
<line x1="1418" y1="662" x2="1418" y2="550" stroke="#000" stroke-width="2.5" marker-end="url(#a)"/>
<path d="M1194,600H1306V682" fill="none" stroke="#000" stroke-width="1.5" marker-end="url(#a)"/>
<line x1="1160" y1="710" x2="1240" y2="710" stroke="#000" stroke-width="2.5" marker-end="url(#a)"/>
<path d="M1156,884H1218V780H1242" fill="none" stroke="#000" stroke-width="2" marker-end="url(#a)"/>
<path d="M1294,874H1418L1412,898H1300Z" fill="#a9d18e" stroke="#000" stroke-width="1.5"/>
<text x="1355" y="893" class="b" font-size="17" text-anchor="middle">MIM</text>
<g stroke="#000" stroke-width="1.5">
<rect x="1252" y="688" width="18" height="52" fill="#ed7d31"/><line x1="1252" y1="705" x2="1270" y2="705"/><line x1="1252" y1="722" x2="1270" y2="722"/>
<rect x="1296" y="688" width="18" height="52" fill="#8faadc"/><line x1="1296" y1="705" x2="1314" y2="705"/><line x1="1296" y1="722" x2="1314" y2="722"/>
<rect x="1254" y="774" width="16" height="52" fill="#595959"/><line x1="1254" y1="791" x2="1270" y2="791"/><line x1="1254" y1="808" x2="1270" y2="808"/>
<rect x="1296" y="774" width="18" height="52" fill="#8faadc"/><line x1="1296" y1="791" x2="1314" y2="791"/><line x1="1296" y1="808" x2="1314" y2="808"/>
</g>
<text x="1236" y="764" class="b" font-size="17">Positive Pair</text>
<text x="1236" y="854" class="b" font-size="17">Negative Pair</text>
<path d="M1366,752H1382V744L1396,758L1382,772V764H1366Z" fill="#5b9bd5"/>
<rect x="1420" y="686" width="48" height="154" rx="8" fill="#f8cbad" stroke="#5b9bd5" stroke-width="2"/>
<text transform="translate(1452,822) rotate(-90)" class="b" font-size="17">Discriminator</text>
</svg>
</body></html>
